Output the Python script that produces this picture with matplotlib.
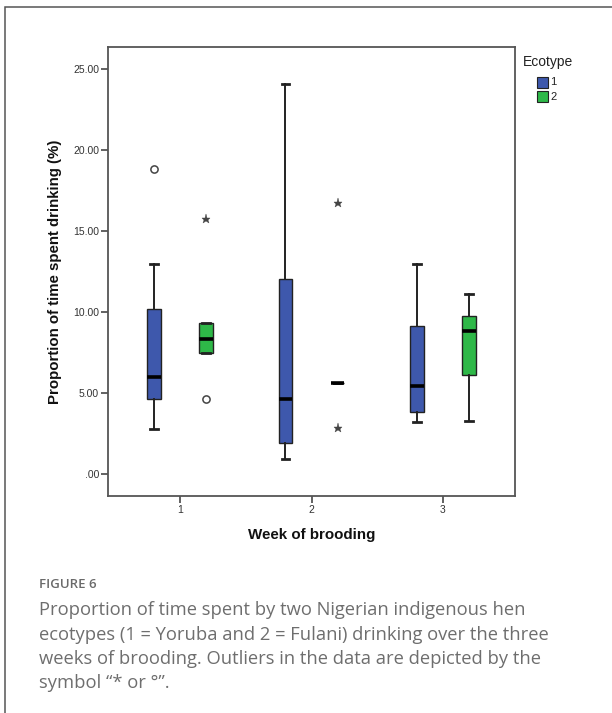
import matplotlib
matplotlib.use("Agg")
import matplotlib.pyplot as plt
from matplotlib.patches import Rectangle

# Week of brooding (x categories)
weeks = [1, 2, 3]
week_labels = ["1", "2", "3"]

# Ecotype 1 (Yoruba) box statistics per week
eco1_whislo = [2.80, 0.95, 3.20]
eco1_q1 = [4.65, 1.90, 3.80]
eco1_med = [6.00, 4.65, 5.45]
eco1_q3 = [10.20, 12.05, 9.15]
eco1_whishi = [12.95, 24.05, 12.95]

# Ecotype 2 (Fulani) box statistics per week
eco2_whislo = [7.45, 5.60, 3.30]
eco2_q1 = [7.45, 5.60, 6.10]
eco2_med = [8.35, 5.60, 8.80]
eco2_q3 = [9.30, 5.60, 9.75]
eco2_whishi = [9.30, 5.60, 11.10]

# Outliers: (week, value) — circles are outliers, stars are extreme values
eco1_circle_week = [1]
eco1_circle_val = [18.80]
eco2_circle_week = [1]
eco2_circle_val = [4.60]
eco2_star_week = [1, 2, 2]
eco2_star_val = [15.75, 16.70, 2.85]

y_ticks = [0, 5, 10, 15, 20, 25]
y_tick_labels = [".00", "5.00", "10.00", "15.00", "20.00", "25.00"]

ecotypes = ["1", "2"]
colors = ["#3E58AC", "#2EB848"]

fig = plt.figure(figsize=(6.12, 7.13), dpi=100)
fig.patch.set_facecolor("white")

# outer panel frame
fig.patches.append(Rectangle((5 / 612, -0.05), 1.2, 1 - 7 / 713 + 0.05,
                             transform=fig.transFigure, fill=False,
                             edgecolor="#555555", linewidth=1.1))

ax = fig.add_axes([108 / 612, 1 - 496 / 713, (515 - 108) / 612, (496 - 47) / 713])

offset = 0.198
width = 0.10


def stats_for(lo, q1, med, q3, hi):
    return [dict(whislo=a, q1=b, med=c, q3=d, whishi=e, fliers=[])
            for a, b, c, d, e in zip(lo, q1, med, q3, hi)]


groups = [
    (stats_for(eco1_whislo, eco1_q1, eco1_med, eco1_q3, eco1_whishi), -offset, colors[0]),
    (stats_for(eco2_whislo, eco2_q1, eco2_med, eco2_q3, eco2_whishi), offset, colors[1]),
]

for stats, dx, col in groups:
    pos = [w + dx for w in weeks]
    ax.bxp(stats, positions=pos, widths=width, patch_artist=True,
           showfliers=False,
           boxprops=dict(facecolor=col, edgecolor="#222222", linewidth=1.0),
           medianprops=dict(color="black", linewidth=2.6, solid_capstyle="butt"),
           whiskerprops=dict(color="#222222", linewidth=1.4),
           capprops=dict(color="#222222", linewidth=2.0),
           capwidths=0.055, manage_ticks=False)

# outliers
ax.plot([w - offset for w in eco1_circle_week], eco1_circle_val, linestyle="none",
        marker="o", markersize=5.2, markerfacecolor="white",
        markeredgecolor="#444444", markeredgewidth=1.1)
ax.plot([w + offset for w in eco2_circle_week], eco2_circle_val, linestyle="none",
        marker="o", markersize=5.2, markerfacecolor="white",
        markeredgecolor="#444444", markeredgewidth=1.1)
ax.plot([w + offset for w in eco2_star_week], eco2_star_val, linestyle="none",
        marker="*", markersize=6.5, markerfacecolor="#444444",
        markeredgecolor="#444444", markeredgewidth=0.3)

ax.set_xlim(0.452, 3.548)
ax.set_ylim(-1.36, 26.36)
ax.set_xticks(weeks)
ax.set_xticklabels(week_labels)
ax.set_yticks(y_ticks)
ax.set_yticklabels(y_tick_labels)

for s in ax.spines.values():
    s.set_color("#555555")
    s.set_linewidth(1.3)

ax.tick_params(axis="both", direction="out", length=5, width=1.3, color="#555555",
               labelsize=7.5, labelcolor="#333333", pad=1.5)
for lbl in ax.get_xticklabels() + ax.get_yticklabels():
    lbl.set_family("Liberation Sans")

ax.set_xlabel("Week of brooding", family="Liberation Sans", fontweight="bold",
              fontsize=10.9, color="#111111", labelpad=9)
ax.set_ylabel("Proportion of time spent drinking (%)", family="Liberation Sans",
              fontweight="bold", fontsize=10.8, color="#111111", labelpad=8)

# legend
fig.text(523 / 612, 1 - 62 / 713, "Ecotype", family="Liberation Sans", fontsize=10,
         color="#222222", va="center", ha="left")
for i, (name, col) in enumerate(zip(ecotypes, colors)):
    yc = 82 + 14.5 * i
    fig.patches.append(Rectangle((537 / 612, 1 - (yc + 5.5) / 713), 11 / 612, 11 / 713,
                                 transform=fig.transFigure, facecolor=col,
                                 edgecolor="#222222", linewidth=0.8))
    fig.text(550 / 612, 1 - yc / 713, name, family="Liberation Sans", fontsize=8,
             color="#222222", va="center", ha="left")

# caption
fig.text(39 / 612, 1 - 585 / 713, "FIGURE 6", family="Open Sans", fontweight="semibold",
         fontsize=9.5, color="#6a6a6a", va="center", ha="left")
caption_lines = [
    "Proportion of time spent by two Nigerian indigenous hen",
    "ecotypes (1 = Yoruba and 2 = Fulani) drinking over the three",
    "weeks of brooding. Outliers in the data are depicted by the",
    "symbol \u201c* or \u00b0\u201d.",
]
for i, line in enumerate(caption_lines):
    fig.text(39 / 612, 1 - (610 + 24.5 * i) / 713, line, family="Open Sans",
             fontsize=13.2, color="#6e6e6e", va="center", ha="left")

fig.savefig("out.png", dpi=100, facecolor="white")
